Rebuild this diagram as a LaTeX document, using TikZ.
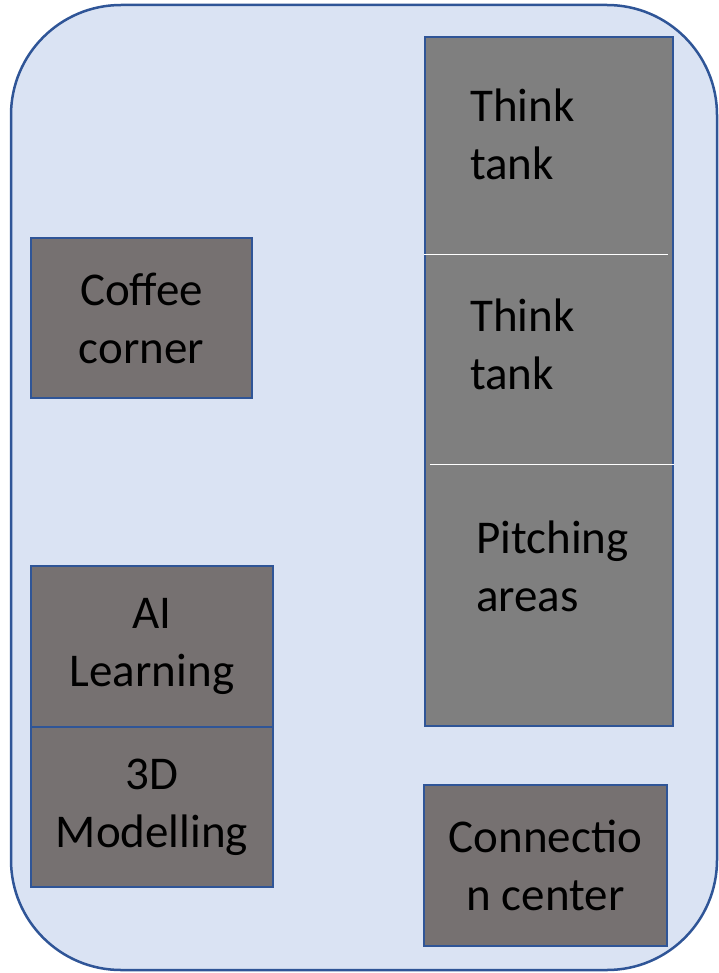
\documentclass[tikz,border=0pt]{standalone}
\usepackage{fontspec}
\setmainfont{Carlito}
\definecolor{floorfill}{HTML}{DAE3F3}
\definecolor{wallblue}{HTML}{2F5597}
\definecolor{roomgray}{HTML}{767171}
\definecolor{zonegray}{HTML}{7F7F7F}
\tikzset{%
  room/.style     = {shape=rectangle, draw=wallblue, line width=1.5pt,%
                     fill=roomgray, inner sep=0pt, align=center,%
                     font=\fontsize{47}{58}\selectfont},%
  zone/.style     = {room, fill=zonegray},%
  zonetext/.style = {anchor=west, align=left, inner sep=0pt,%
                     font=\fontsize{47}{58}\selectfont},%
  divider/.style  = {draw=white, line width=1.2pt}%
}

\begin{document}
\begin{tikzpicture}[x=1pt,y=-1pt]
	\useasboundingbox (0,0) rectangle (718,973);
	\draw [wallblue, fill=floorfill, line width=2.5pt, rounded corners=110pt] (11,5) rectangle (717,970);
	% left side
	\node [room, minimum width=221pt, minimum height=160pt] (coffee) at (141.5,318) {Coffee\\corner};
	\node [room, minimum width=242pt, minimum height=161pt] (ai) at (152,646.5) {AI\\Learning};
	\node [room, minimum width=242pt, minimum height=160pt] (model) at (152,807) {3D\\Modelling};
	% right side
	\node [zone, minimum width=248pt, minimum height=689pt] (column) at (549,381.5) {};
	\draw [divider] ([yshift=-218pt]column.north west) -- ([yshift=-218pt,xshift=-6pt]column.north east);
	\draw [divider] ([yshift=-428pt,xshift=6pt]column.north west) -- ([yshift=-428pt]column.north east);
	\node [zonetext] (think1) at (470,134) {Think\\tank};
	\node [zonetext] (think2) at (470,344) {Think\\tank};
	\node [zonetext] (pitch) at (476,566) {Pitching\\areas};
	\node [room, minimum width=243pt, minimum height=161pt] (connect) at (545.5,865.5) {Connectio\\n center};
\end{tikzpicture}
\end{document}
